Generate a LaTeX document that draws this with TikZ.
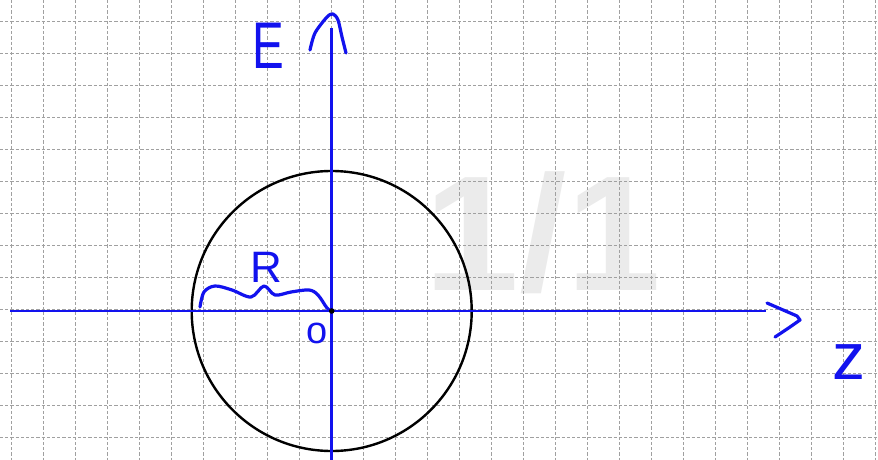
\documentclass[tikz,border=0pt]{standalone}
\usepackage{fontspec}
\setmainfont{Liberation Sans}
\definecolor{penblue}{RGB}{18,18,238}
\definecolor{gridgray}{RGB}{160,160,160}
\definecolor{markgray}{RGB}{235,235,235}
\begin{document}
\begin{tikzpicture}[x=1pt,y=-1pt,
  gridline/.style={draw=gridgray, line width=1pt, dash pattern=on 3.2pt off 2pt},
  axisline/.style={draw=penblue, line width=2.8pt},
  pen/.style={draw=penblue, line width=3.2pt, line cap=round, line join=round},
  hand/.style={text=penblue, inner sep=0pt, anchor=center},
  ring/.style={draw=black, line width=2.4pt}
]
\fill[white] (0,0) rectangle (878,460);
\useasboundingbox (0,0) rectangle (878,460);
% watermark
\node[text=markgray, inner sep=0pt, anchor=base, font=\fontsize{164}{164}\selectfont\bfseries] (mark) at (543,290) {\scalebox{1.04}[1]{1/1}};
% grid
\foreach \k in {0,...,27} {\draw[gridline] ({11.7+32*\k},0) -- ({11.7+32*\k},460);}
\foreach \k in {0,...,13} {\draw[gridline] (0,{21.7+32*\k}) -- (878,{21.7+32*\k});}
% coordinates
\coordinate (O) at (331.7,311);
\coordinate (xl) at (10,311);
\coordinate (xr) at (766,311);
\coordinate (yb) at (331.7,460);
\coordinate (yt) at (331.7,28);
% circle
\draw[ring] (O) circle[radius=140];
% axes
\draw[axisline] (xl) -- (xr);
\draw[axisline] (yb) -- (yt);
% hand-drawn arrow heads
\draw[pen] plot[smooth, tension=0.5] coordinates {(310,50) (315,33) (327,17) (333,14) (338,20) (342,37) (346,53)};
\draw[pen] (767,303) -- (797,316) -- (800,320) -- (790,327) -- (775,337);
% brace
\draw[pen] plot[smooth, tension=0.55] coordinates {(200,307) (204,292) (215,286) (232,290) (251,297) (264,286) (275,295) (291,292) (309,290) (318,295) (327,308) (331.7,311)};
% origin dot
\fill[black] (O) circle[radius=2.8];
% labels
\node[hand, font=\fontsize{66}{66}\selectfont] (E) at (268,46) {\scalebox{0.72}[1]{E}};
\node[hand, font=\fontsize{44}{44}\selectfont] (R) at (266,267) {R};
\node[hand, font=\fontsize{38}{38}\selectfont] (o) at (317,333) {o};
\node[hand, font=\fontsize{66}{66}\selectfont] (z) at (849,362) {z};
\end{tikzpicture}
\end{document}
